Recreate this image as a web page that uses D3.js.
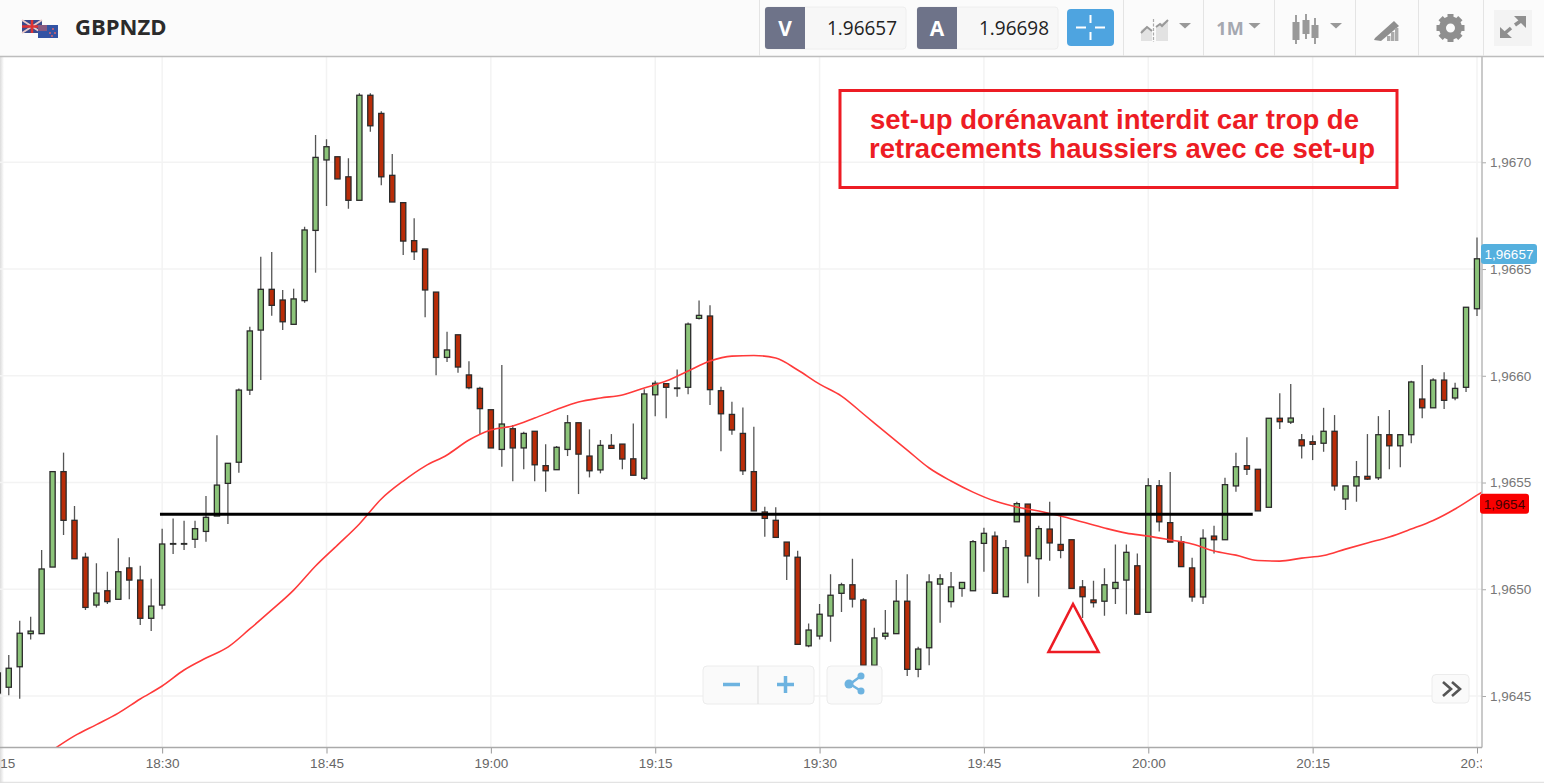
<!DOCTYPE html>
<html><head><meta charset="utf-8">
<script src="https://cdn.jsdelivr.net/npm/d3@7"></script>
<style>
html,body{margin:0;padding:0;background:#fff;overflow:hidden}
svg{display:block}
text{font-family:"Liberation Sans",Arial,sans-serif}
</style></head><body>
<svg id="c" width="1544" height="783"></svg>
<script>
// Values are millionths above 1.96 (4514 = 1.964514), one candle per minute from 18:15
const startTime = "18:15";
const opens = [4514,4541,4637,4792,4792,5104,5551,5323,5150,4926,4993,4953,5100,5043,4864,4926,5212,5212,5234,5271,5343,5496,5595,5933,6214,6405,6355,6241,6352,6681,7011,7026,6932,6822,7314,7229,6939,6811,6633,6594,6392,6086,6192,6004,5941,5841,5655,5752,5662,5740,5579,5560,5655,5780,5624,5559,5674,5680,5611,5520,5911,5963,5941,5946,6269,6280,5930,5819,5730,5551,5362,5323,5221,5150,4735,4781,4875,4981,5021,4950,4644,4780,4792,4944,4625,4726,5024,4942,5004,4993,5215,5249,4965,5316,5399,5143,5282,5210,5232,5011,4950,4944,5004,5043,5110,4892,5485,5312,5223,5100,4964,5249,5232,5484,5579,5562,5384,5801,5783,5700,5691,5684,5740,5423,5484,5529,5522,5724,5672,5724,5891,5850,5980,5896,5946,6314];
const highs = [4622,4692,4853,4871,5184,5554,5640,5390,5171,5122,5082,5239,5150,5110,5049,5284,5332,5321,5321,5437,5722,5590,5940,6230,6558,6580,6402,6408,6698,7128,7108,7026,7019,7323,7323,7239,7039,6811,6738,6594,6392,6206,6192,6068,5949,5841,6050,5769,5738,5740,5679,5671,5816,5780,5749,5699,5727,5680,5777,5937,5977,5963,6030,6250,6353,6330,5949,5878,5852,5761,5387,5384,5221,5180,4840,4931,5070,5031,5143,4958,4820,4903,5043,5070,4731,5070,5070,5081,5032,5231,5288,5271,5231,5410,5399,5298,5410,5348,5232,5043,5040,5098,5210,5210,5168,5520,5512,5549,5249,5148,5281,5298,5522,5640,5712,5562,5801,5918,5961,5727,5721,5850,5816,5484,5601,5727,5811,5840,5724,5977,6050,5989,6016,5967,6321,6648];
const lows = [4481,4503,4487,4765,4792,5104,5254,5143,4903,4915,4931,4953,4953,4832,4804,4906,5165,5184,5193,5223,5343,5306,5546,5910,5980,6281,6214,6241,6342,6483,6795,6922,6782,6822,7143,6893,6814,6566,6542,6274,6002,6064,6014,5937,5727,5662,5574,5506,5562,5506,5457,5560,5624,5446,5524,5543,5657,5562,5534,5512,5811,5801,5902,5913,6264,5863,5646,5724,5535,5367,5246,5243,5043,4742,4728,4765,4754,4893,4915,4644,4575,4765,4792,4594,4588,4644,4843,4915,4965,4993,5082,4981,4965,5316,5028,4965,5134,5145,5004,4865,4915,4876,4931,4883,4883,4892,5271,5221,5106,4942,4931,5168,5232,5457,5535,5367,5384,5751,5774,5613,5605,5644,5462,5371,5410,5512,5512,5562,5571,5684,5801,5850,5844,5885,5924,6280];
const closes = [4608,4630,4794,4804,5095,5551,5323,5143,4915,4982,4942,5082,5043,4864,4921,5212,5214,5214,5284,5337,5488,5590,5933,6210,6405,6330,6253,6360,6683,7023,7073,6922,6822,7314,7171,6932,6814,6631,6581,6402,6086,6121,6041,5944,5846,5662,5774,5662,5730,5583,5555,5665,5780,5633,5555,5674,5660,5610,5534,5915,5965,5946,5943,6242,6283,5935,5822,5746,5555,5367,5332,5243,5156,4742,4809,4883,4972,5021,4954,4644,4772,4794,4944,4625,4720,5034,5049,5011,5032,5223,5262,4981,5195,5401,5156,5284,5217,5182,5004,4965,4937,5021,5032,5173,4883,5485,5316,5221,5106,4964,5239,5232,5490,5574,5562,5367,5801,5785,5802,5672,5679,5740,5484,5484,5527,5516,5724,5672,5724,5971,5850,5980,5885,5941,6321,6548];
// Red moving average, one reading every two minutes from 18:20
const maStart = "18:20";
const maValues = [4247,4313,4366,4420,4486,4547,4622,4678,4729,4814,4903,4996,5109,5207,5306,5423,5507,5577,5629,5699,5746,5765,5802,5842,5877,5896,5910,5943,5975,6022,6069,6092,6095,6083,6027,5961,5905,5821,5736,5652,5568,5507,5455,5413,5385,5367,5343,5315,5287,5263,5249,5231,5212,5179,5160,5135,5132,5146,5158,5188,5217,5245,5282,5322,5376,5441];
const priceTicks = [1.9645,1.9650,1.9655,1.9660,1.9665,1.9670];
const timeTicks = ["18:15","18:30","18:45","19:00","19:15","19:30","19:45","20:00","20:15","20:30"];
const symbol = "GBPNZD", bid = "1.96657", ask = "1.96698";
const lastPrice = 1.96657, maLast = 1.9654;
const levelPrice = 1.965351, levelFrom = "18:29:48", levelTo = "20:09:32";
const note = ["set-up dorénavant interdit car trop de","retracements haussiers avec ce set-up"];

const parseT = d3.timeParse("%H:%M"), parseS = d3.timeParse("%H:%M:%S");
const t0 = parseT(startTime), addMin = (t,m)=>d3.timeMinute.offset(t,m);
const price = v => 1.96 + v/1e6;
const comma = d3.format(".4f");
const svg = d3.select("#c");
const W=1544,H=783,R=1482,T=57,B=747.5;

const x = d3.scaleTime().domain([t0,parseT("20:30")]).range([-2.2,1477]);
const y = d3.scaleLinear().domain([1.9645,1.9670]).range([696,162.3]);

const defs = svg.append("defs");
defs.append("clipPath").attr("id","plot").append("rect").attr("x",0).attr("y",T).attr("width",R).attr("height",B-T);
defs.append("clipPath").attr("id","bot").append("rect").attr("x",0).attr("y",B).attr("width",R).attr("height",H-B);
const lg = defs.append("linearGradient").attr("id","edge");
lg.append("stop").attr("offset",0).attr("stop-color","#dcdcdc");
lg.append("stop").attr("offset",1).attr("stop-color","#fff");

svg.append("rect").attr("width",W).attr("height",H).attr("fill","#fff");
svg.append("rect").attr("width",4).attr("height",H).attr("fill","url(#edge)");

// grid
const grid = svg.append("g").attr("clip-path","url(#plot)");
grid.selectAll(".gy").data(priceTicks).join("line").attr("x1",0).attr("x2",R).attr("y1",d=>y(d)).attr("y2",d=>y(d)).attr("stroke","#f3f3f3").attr("stroke-width",1.5);
grid.selectAll(".gx").data(timeTicks).join("line").attr("x1",d=>x(parseT(d))).attr("x2",d=>x(parseT(d))).attr("y1",T).attr("y2",B).attr("stroke","#f3f3f3").attr("stroke-width",1.5);

// candles
const candles = opens.map((o,i)=>({t:addMin(t0,i),o:price(o),h:price(highs[i]),l:price(lows[i]),c:price(closes[i])}));
const plot = svg.append("g").attr("clip-path","url(#plot)");
const bw = 5.2;
const cg = plot.selectAll("g.k").data(candles).join("g").attr("class","k");
cg.append("line").attr("x1",d=>x(d.t)).attr("x2",d=>x(d.t)).attr("y1",d=>y(d.h)).attr("y2",d=>y(d.l)).attr("stroke","#555").attr("stroke-width",1.3);
cg.append("rect").attr("x",d=>x(d.t)-bw/2).attr("width",bw)
  .attr("y",d=>y(Math.max(d.o,d.c)))
  .attr("height",d=>Math.max(0.6,Math.abs(y(d.o)-y(d.c))))
  .attr("fill",d=>d.c>=d.o?"#8cc47a":"#b92c08")
  .attr("stroke","#2b2b2b").attr("stroke-width",1.3);

// moving average
const maT0 = parseT(maStart);
plot.append("path").datum(maValues).attr("fill","none").attr("stroke","#ff3a3a").attr("stroke-width",1.6)
  .attr("d",d3.line().x((d,i)=>x(addMin(maT0,i*2))).y(d=>y(price(d))).curve(d3.curveMonotoneX));
const n = maValues.length-1;
plot.append("line").attr("x1",x(addMin(maT0,n*2))).attr("y1",y(price(maValues[n]))).attr("x2",x(addMin(maT0,n*2+1))).attr("y2",y(maLast+0.00007)).attr("stroke","#ff3a3a").attr("stroke-width",1.6);

// hand-drawn level
svg.append("line").attr("x1",x(parseS(levelFrom))).attr("x2",x(parseS(levelTo))).attr("y1",y(levelPrice)).attr("y2",y(levelPrice)).attr("stroke","#000").attr("stroke-width",3);

// axes
const yAxis = d3.axisRight(y).tickValues(priceTicks).tickSize(4).tickPadding(4).tickFormat(d=>comma(d).replace(".",","));
const gy = svg.append("g").attr("transform",`translate(${R},0)`).call(yAxis);
gy.select(".domain").remove();
gy.selectAll("text").attr("font-size",13.5).attr("fill","#777");
gy.selectAll("line").attr("stroke","#aaa");
const xAxis = d3.axisBottom(x).tickValues(timeTicks.map(parseT)).tickFormat(d3.timeFormat("%H:%M")).tickSize(6).tickPadding(4.5);
const gx = svg.append("g").attr("clip-path","url(#bot)").append("g").attr("transform",`translate(0,${B})`).call(xAxis);
gx.select(".domain").remove();
gx.selectAll("text").attr("font-size",13.5).attr("fill","#666");
gx.selectAll("line").attr("stroke","#999");
svg.append("line").attr("x1",R).attr("x2",R).attr("y1",T).attr("y2",B).attr("stroke","#b9b9b9").attr("stroke-width",1.5);
svg.append("line").attr("x1",0).attr("x2",R).attr("y1",B).attr("y2",B).attr("stroke","#aaa").attr("stroke-width",1.5);
svg.append("line").attr("x1",0).attr("x2",W).attr("y1",782.3).attr("y2",782.3).attr("stroke","#ddd");

// price tags
function tag(px,x0,w,h,fill,col,label){
  svg.append("rect").attr("x",x0).attr("y",y(px)-h/2).attr("width",w).attr("height",h).attr("rx",3).attr("fill",fill);
  svg.append("text").attr("x",x0+w/2).attr("y",y(px)+4.7).attr("text-anchor","middle").attr("font-size",13.5).attr("fill",col).text(label);
}
tag(lastPrice,1481,56,20,"#55b0de","#fff",String(lastPrice).replace(".",","));
tag(maLast,1480,49,20,"#f90000","#400","1,9654");

// annotations
svg.append("rect").attr("x",840).attr("y",90.5).attr("width",557).attr("height",97).attr("fill","none").attr("stroke","#ed1c24").attr("stroke-width",3);
svg.selectAll("text.note").data(note).join("text").attr("class","note")
  .attr("x",(d,i)=>i?869:870).attr("y",(d,i)=>i?158:129)
  .attr("font-size",27.5).attr("font-weight",700).attr("fill","#ed1c24").text(d=>d);
svg.append("path").attr("d","M1073 604L1048.5 652H1098.5Z").attr("fill","none").attr("stroke","#ed1c24").attr("stroke-width",2.6);

// header
const hd = svg.append("g");
hd.append("rect").attr("width",W).attr("height",56).attr("fill","#fbfbfb");
hd.append("line").attr("x1",0).attr("x2",W).attr("y1",56.5).attr("y2",56.5).attr("stroke","#bdbdbd").attr("stroke-width",1.5);
// flags
hd.append("rect").attr("x",22).attr("y",20).attr("width",20).attr("height",13).attr("fill","#3a4a8c");
hd.append("path").attr("d","M22 20L42 33M42 20L22 33").attr("stroke","#e8c8c8").attr("stroke-width",2);
hd.append("path").attr("d","M32 20V33M22 26.5H42").attr("stroke","#d33").attr("stroke-width",2.5);
hd.append("rect").attr("x",38).attr("y",25).attr("width",20).attr("height",13).attr("fill","#3353a4");
hd.append("path").attr("d","M38 25H47V31H38Z").attr("fill","#8a5a80");
hd.selectAll("circle.st").data([[53,29],[50,33],[55,33],[52,36]]).join("circle").attr("cx",d=>d[0]).attr("cy",d=>d[1]).attr("r",0.9).attr("fill","#e66");
hd.append("text").attr("x",75).attr("y",35).attr("font-size",22).attr("font-weight",700).attr("fill","#2b2b2b").style("font-family","'Open Sans'").text(symbol);
// price boxes
function quote(x0,letter,val){
  hd.append("rect").attr("x",x0).attr("y",7).attr("width",141).attr("height",42).attr("rx",3).attr("fill","#f7f7f7").attr("stroke","#eee");
  hd.append("path").attr("d",`M${x0+3} 7H${x0+40}V49H${x0+3}a3 3 0 0 1 -3 -3V10a3 3 0 0 1 3 -3Z`).attr("fill","#6e7389");
  hd.append("text").attr("x",x0+20).attr("y",36).attr("text-anchor","middle").attr("font-size",21).attr("font-weight",700).attr("fill","#fff").style("font-family","'Open Sans'").text(letter);
  hd.append("text").attr("x",x0+97).attr("y",35).attr("text-anchor","middle").attr("font-size",20).attr("fill","#222").style("font-family","'Open Sans'").attr("textLength",70).attr("lengthAdjust","spacingAndGlyphs").text(val);
}
quote(765,"V",bid); quote(917,"A",ask);
hd.append("rect").attr("x",1067).attr("y",9).attr("width",47).attr("height",37).attr("rx",4).attr("fill","#4ea4e0");
hd.append("path").attr("d","M1090.5 15V23M1090.5 32V40M1076 27.5H1086M1095 27.5H1105").attr("stroke","#fff").attr("stroke-width",2);
hd.selectAll("line.sep").data([759,1123,1203,1274,1355,1418,1483]).join("line").attr("x1",d=>d+.5).attr("x2",d=>d+.5).attr("y1",0).attr("y2",56).attr("stroke","#e4e4e4");
// chart-type icon
hd.append("path").attr("d","M1141 41V30L1147 26L1152 30V41Z M1156 41V26L1160 24L1168 20V41Z").attr("fill","#e2e2e2");
hd.append("path").attr("d","M1141 33L1147 27L1152 31 M1156 27L1160 24L1162 26L1168 20").attr("fill","none").attr("stroke","#999").attr("stroke-width",2);
hd.append("path").attr("d","M1153.5 19V42").attr("stroke","#aaa").attr("stroke-width",1.2).attr("stroke-dasharray","3 1.5");
const caret = cx => hd.append("path").attr("d",`M${cx-6} 23H${cx+6}L${cx} 28.5Z`).attr("fill","#999");
[1185,1254.5,1336].forEach(caret);
hd.append("text").attr("x",1230).attr("y",34.5).attr("text-anchor","middle").attr("font-size",18).attr("font-weight",700).attr("fill","#a5a8b0").style("font-family","'Open Sans'").text("1M");
// candle icon
[[1296,22,40,15,44],[1306,20,34,14,39],[1315,25,38,18,44]].forEach(c=>{
  hd.append("path").attr("d",`M${c[0]} ${c[3]}V${c[4]}`).attr("stroke","#888").attr("stroke-width",1.6);
  hd.append("rect").attr("x",c[0]-3.5).attr("y",c[1]).attr("width",7).attr("height",c[2]-c[1]).attr("fill","#999");
});
// pencil icon with bars
hd.append("path").attr("d","M1375 38L1394 21L1399 26L1381 41L1374 40Z").attr("fill","#8f8f8f");
[[1387,36],[1391,32],[1395,28]].forEach(b=>hd.append("rect").attr("x",b[0]).attr("y",b[1]).attr("width",3.4).attr("height",41-b[1]).attr("fill","#aaa"));
// gear
hd.append("circle").attr("cx",1450.5).attr("cy",28).attr("r",8).attr("fill","none").attr("stroke","#8f8f8f").attr("stroke-width",7);
d3.range(8).forEach(i=>hd.append("rect").attr("x",1447.5).attr("y",14).attr("width",6).attr("height",6).attr("fill","#8f8f8f").attr("transform",`rotate(${i*45} 1450.5 28)`));
// expand
hd.append("rect").attr("x",1494).attr("y",10).attr("width",38).attr("height",36).attr("fill","#f3f3f3");
hd.append("path").attr("d","M1504 34L1511 28M1515 25L1522 20").attr("stroke","#8f8f8f").attr("stroke-width",3.5);
hd.append("path").attr("d","M1514 16H1526V28ZM1500 27L1512 38H1500Z").attr("fill","#8f8f8f");

// floating buttons
const fb = svg.append("g");
function box(x0,y0,w,h){ fb.append("rect").attr("x",x0).attr("y",y0).attr("width",w).attr("height",h).attr("rx",4).attr("fill","#fafafa").attr("stroke","#ececec"); }
box(703,666,111,38); fb.append("line").attr("x1",758).attr("x2",758).attr("y1",666).attr("y2",704).attr("stroke","#ddd");
box(827,666,55,38); box(1432,674.5,37,28.5);
fb.append("path").attr("d","M723 684.5H740M777 684.5H794M785.5 676V693").attr("stroke","#6db3e0").attr("stroke-width",3.5);
fb.append("path").attr("d","M850 684L861 676M850 684L861 691").attr("stroke","#6db3e0").attr("stroke-width",2.5);
fb.selectAll("circle.s").data([[849,684,4.5],[861,676,3.5],[861,691,3.5]]).join("circle").attr("cx",d=>d[0]).attr("cy",d=>d[1]).attr("r",d=>d[2]).attr("fill","#6db3e0");
fb.append("path").attr("d","M1443 682L1451 689L1443 696M1452 682L1460 689L1452 696").attr("fill","none").attr("stroke","#555").attr("stroke-width",2.6);
</script></body></html>
